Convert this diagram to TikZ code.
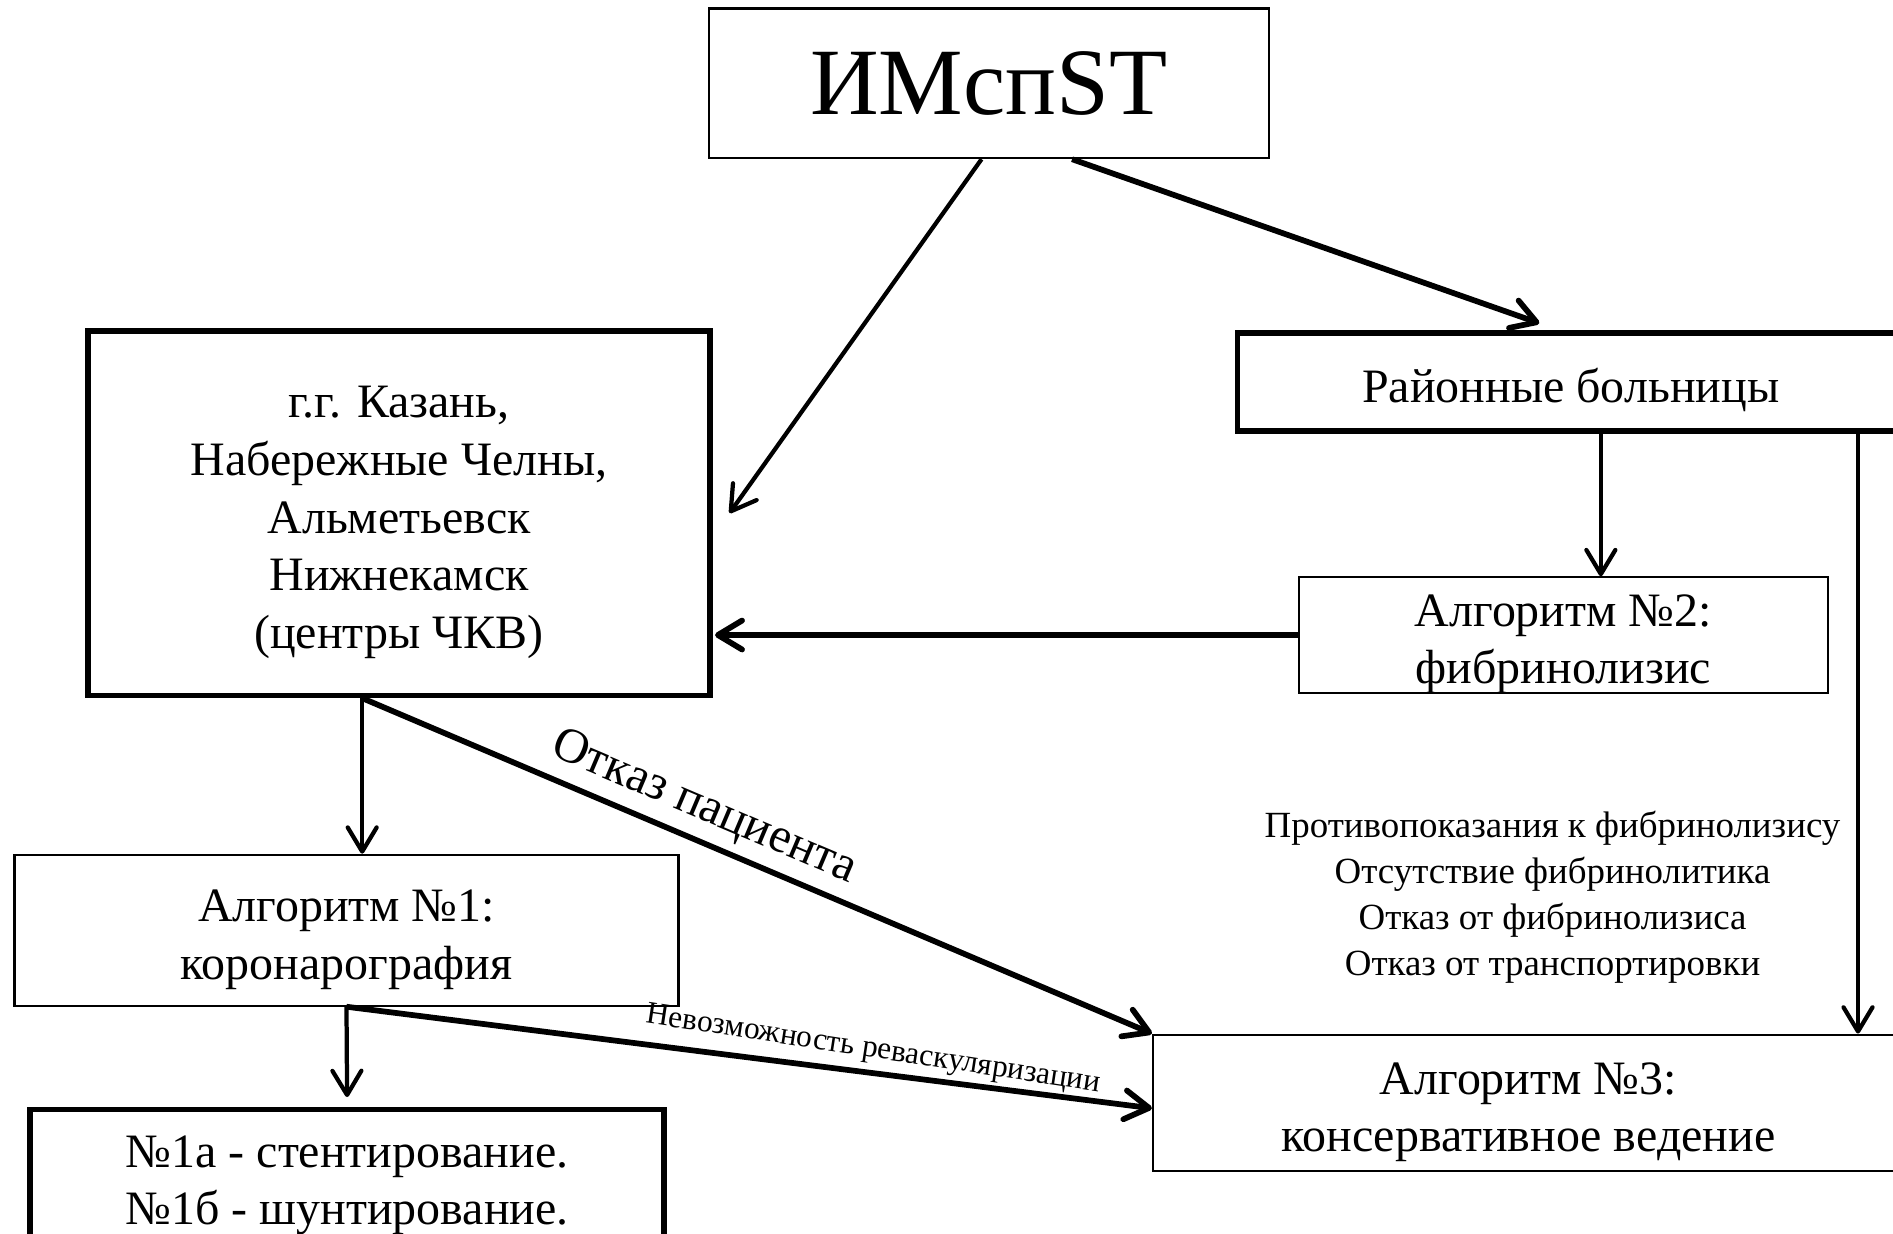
\documentclass[tikz,border=0pt]{standalone}
\usepackage{fontspec}
\setmainfont{Liberation Serif}
\usetikzlibrary{arrows.meta,positioning}

% lines of a box, set a little lower than the box centre
\newcommand{\boxlines}[1]{\raisebox{-2pt}[\height][\depth]{\begin{tabular}{@{}c@{}}#1\end{tabular}}}

\tikzset{
  box/.style={rectangle,
      draw = black,
      line width = 0.5pt,
      inner sep = 0pt,
      font = \fontsize{11.3}{13.6}\selectfont},
  boldbox/.style={box,
      line width = 1.3pt},
  arr/.style={-{Straight Barb[length=2mm,width=2.4mm,round]},
      line width = 1pt},
  boldarr/.style={arr,
      line width = 1.35pt},
}

\begin{document}
\begin{tikzpicture}

\useasboundingbox (0,0) rectangle (15.68,-10.22);
\clip (0,0) rectangle (15.68,-10.22);

% top
  \node[box,
      minimum width = 4.64cm,
      minimum height = 1.24cm,
      font = \fontsize{22.4}{27}\selectfont] (imst) at (8.19,-0.69) {\boxlines{ИМспST}};

% cities and district hospitals
  \node[boldbox,
      minimum width = 5.15cm,
      minimum height = 3.02cm] (centers) at (3.305,-4.25)
      {\boxlines{г.г. Казань,\\ Набережные Челны,\\ Альметьевск\\ Нижнекамск\\ (центры ЧКВ)}};

  \node[boldbox,
      minimum width = 5.52cm,
      minimum height = 0.81cm] (rayon) at (13.01,-3.165) {\boxlines{Районные больницы}};

% algorithms
  \node[box,
      minimum width = 4.38cm,
      minimum height = 0.94cm] (algtwo) at (12.95,-5.26) {\boxlines{Алгоритм №2:\\ фибринолизис}};

  \node[box,
      minimum width = 5.50cm,
      minimum height = 1.25cm] (algone) at (2.87,-7.705) {\boxlines{Алгоритм №1:\\ коронарография}};

  \node[box,
      minimum width = 6.22cm,
      minimum height = 1.13cm] (algthree) at (12.66,-9.135) {\boxlines{Алгоритм №3:\\ консервативное ведение}};

  \node[boldbox,
      minimum width = 5.25cm,
      minimum height = 1.10cm] (sten) at (2.875,-9.74) {\boxlines{№1а - стентирование.\\ №1б - шунтирование.}};

% reasons for algorithm 3
  \node[align = center,
      font = \fontsize{8.7}{10.8}\selectfont] (contra) at (12.86,-7.43)
      {Противопоказания к фибринолизису\\ Отсутствие фибринолитика\\ Отказ от фибринолизиса\\ Отказ от транспортировки};

% arrows
\draw[arr] ([xshift=-0.06cm]imst.south) -- ([xshift=0.14cm]centers.east);
\draw[boldarr] ([xshift=0.69cm]imst.south) -- ([xshift=-0.26cm,yshift=0.06cm]rayon.north);
\draw[arr] ([xshift=0.31cm]algtwo.north |- rayon.south) -- ([xshift=0.31cm]algtwo.north);
\draw[arr] ([xshift=2.73cm]algthree.north |- rayon.south) -- ([xshift=2.73cm]algthree.north);
\draw[boldarr] (algtwo.west) -- ([xshift=0.02cm]algtwo.west -| centers.east);

\coordinate (cfork) at ([xshift=-0.305cm]centers.south);
\draw[arr] (cfork) -- (cfork |- algone.north);
\draw[boldarr] (cfork) -- (algthree.north west)
  node[pos=0.417, sloped, above, inner sep=2pt, font=\fontsize{11.6}{13}\selectfont] (refuse) {Отказ пациента};

\draw[arr] (algone.south) -- ([yshift=0.08cm]sten.north);
\draw[boldarr] (algone.south) -- ([yshift=-0.045cm]algthree.west)
  node[pos=0.65, sloped, rotate=-1.5, above=0.05cm, inner sep=0pt, font=\fontsize{7.4}{9}\selectfont] (norevasc) {Невозможность реваскуляризации};

\end{tikzpicture}
\end{document}
